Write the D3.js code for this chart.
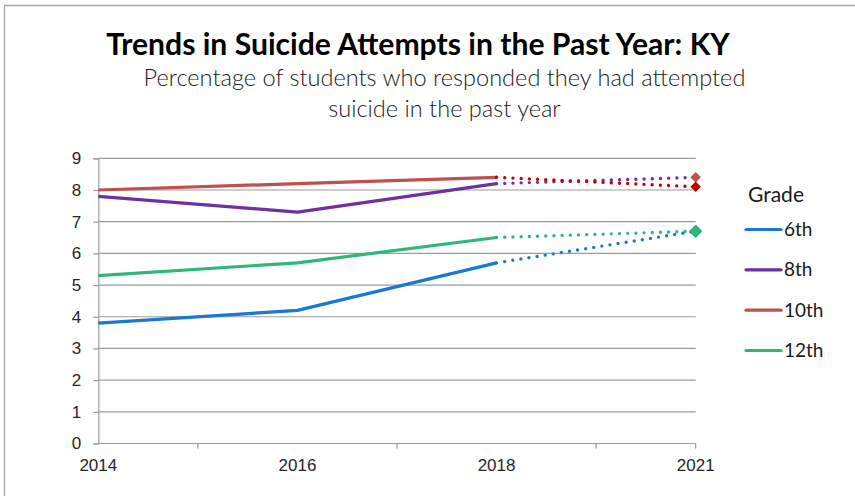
<!DOCTYPE html>
<html><head><meta charset="utf-8">
<script src="https://cdn.jsdelivr.net/npm/d3@7"></script>
<style>html,body{margin:0;padding:0;background:#fff;}svg{display:block;}</style>
</head><body>
<svg id="c" width="855" height="496"></svg>
<script>
const years = ["2014","2016","2018","2021"];
const grades = ["6th","8th","10th","12th"];
const v6th  = [3.8, 4.2, 5.7, 6.7];
const v8th  = [7.8, 7.3, 8.2, 8.4];
const v10th = [8.0, 8.2, 8.4, 8.1];
const v12th = [5.3, 5.7, 6.5, 6.7];
const yTicks = [0,1,2,3,4,5,6,7,8,9];
const colors = ["#1A78D2","#7030A0","#C0504D","#2DB87A"];
const dotColors = ["#1A78D2","#7030A0","#C00000","#2DB87A"];
const markerColors = ["#1A78D2","#C0504D","#C00000","#2DB87A"];
const series = [v6th, v8th, v10th, v12th];

const svg = d3.select("#c");
const x = d3.scalePoint().domain(years).range([98.3, 695.7]);
const y = d3.scaleLinear().domain([0, 9]).range([443.5, 158.3]);

// outer frame
svg.append("path").attr("d","M4.5,496 L4.5,5.5 L855,5.5").attr("fill","none").attr("stroke","#A6A6A6").attr("stroke-width",1.3);

// gridlines
svg.append("g").selectAll("line").data(yTicks.filter(d=>d>0)).join("line")
  .attr("x1", x.range()[0]).attr("x2", x.range()[1])
  .attr("y1", d=>y(d)).attr("y2", d=>y(d))
  .attr("stroke","#9B9B9B").attr("stroke-width",1.2);

// y axis
const yAxis = d3.axisLeft(y).tickValues(yTicks).tickSize(5).tickPadding(12).tickFormat(d3.format("d"));
const gy = svg.append("g").attr("transform",`translate(${x.range()[0]},0)`).call(yAxis);
gy.select(".domain").attr("stroke","#9B9B9B").attr("stroke-width",1.2);
gy.selectAll(".tick line").attr("stroke","#9B9B9B").attr("stroke-width",1.2);
gy.selectAll(".tick text").attr("font-family","'Liberation Sans', Arial, sans-serif").attr("font-size",17).attr("fill","#262626").attr("x",-17);

// x axis
const step = x.step();
const mids = years.slice(0,-1).map(d=>x(d)+step/2);
const gx = svg.append("g").attr("transform",`translate(0,${y(0)})`);
gx.append("line").attr("x1",x.range()[0]).attr("x2",x.range()[1]).attr("stroke","#9B9B9B").attr("stroke-width",1.2);
gx.selectAll(".mt").data(mids.concat([x.range()[1]])).join("line").attr("class","mt")
  .attr("x1",d=>d).attr("x2",d=>d).attr("y1",0).attr("y2",5).attr("stroke","#9B9B9B").attr("stroke-width",1.2);
gx.selectAll("text").data(years).join("text")
  .attr("x",d=>x(d)).attr("y",27.5).attr("text-anchor","middle")
  .attr("font-family","'Liberation Sans', Arial, sans-serif").attr("font-size",17).attr("fill","#262626")
  .text(d=>d);

// lines
series.forEach((s,k)=>{
  const pts = s.map((v,i)=>[x(years[i]), y(v)]);
  svg.append("path").attr("d", d3.line()(pts.slice(0,3))).attr("fill","none")
    .attr("stroke",colors[k]).attr("stroke-width",3.2).attr("stroke-linejoin","round");
});
series.forEach((s,k)=>{
  const pts = s.map((v,i)=>[x(years[i]), y(v)]);
  svg.append("path").attr("d", d3.line()(pts.slice(2))).attr("fill","none")
    .attr("stroke",dotColors[k]).attr("stroke-width",3.4).attr("stroke-linecap","round")
    .attr("stroke-dasharray","0 8.2").attr("stroke-dashoffset",-8.2);
});
// markers at last point
const diamond = (cx,cy,r)=>`M${cx},${cy-r}L${cx+r},${cy}L${cx},${cy+r}L${cx-r},${cy}Z`;
const markerSize = [6.5,5.2,5.2,6.5];
[0,1,2,3].forEach(k=>{
  const s = series[k];
  svg.append("path").attr("d", diamond(x(years[3]), y(s[3]), markerSize[k])).attr("fill",markerColors[k]);
});

// titles
function fit(sel, target){
  const n = sel.node(); let fs = +sel.attr("font-size");
  const w = n.getComputedTextLength(); if (w>0) sel.attr("font-size", fs*target/w);
}
const t = svg.append("text").attr("x",418).attr("y",55).attr("text-anchor","middle")
  .attr("font-family","Lato, 'Open Sans', sans-serif").attr("font-weight",700).attr("font-size",26).attr("fill","#000")
  .text("Trends in Suicide Attempts in the Past Year: KY");
fit(t, 624);
const s1 = svg.append("text").attr("x",444.5).attr("y",86).attr("text-anchor","middle")
  .attr("font-family","Lato, 'Open Sans', sans-serif").attr("font-weight",300).attr("font-size",21).attr("fill","#1a1a1a")
  .text("Percentage of students who responded they had attempted");
fit(s1, 602);
const s2 = svg.append("text").attr("x",444.5).attr("y",117).attr("text-anchor","middle")
  .attr("font-family","Lato, 'Open Sans', sans-serif").attr("font-weight",300).attr("font-size",+s1.attr("font-size")).attr("fill","#1a1a1a")
  .text("suicide in the past year");

// legend
const lg = svg.append("g");
const gt = lg.append("text").attr("x",748).attr("y",202).attr("font-family","Lato, 'Open Sans', sans-serif").attr("font-size",19).attr("fill","#1a1a1a").text("Grade");
fit(gt, 56);
const ly = d3.scalePoint().domain(grades).range([229.5, 350.5]);
grades.forEach((g,k)=>{
  lg.append("line").attr("x1",746).attr("x2",781).attr("y1",ly(g)).attr("y2",ly(g))
    .attr("stroke",colors[k]).attr("stroke-width",3.2).attr("stroke-linecap","round");
  lg.append("text").attr("x",784).attr("y",ly(g)+6.5).attr("font-family","Lato, 'Open Sans', sans-serif").attr("font-size",19).attr("fill","#1a1a1a").text(g);
});
</script>
</body></html>
